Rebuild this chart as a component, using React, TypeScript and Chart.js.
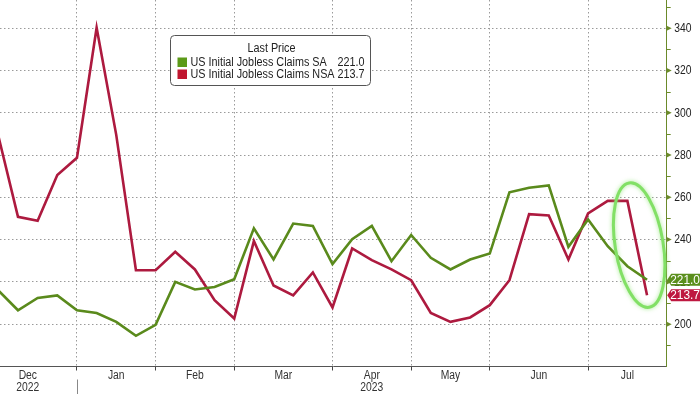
import React, { useEffect, useRef } from 'react';
import { Chart, registerables } from 'chart.js';

Chart.register(...registerables);

// ---- Data ----
const weekIndex: number[] = Array.from({ length: 34 }, (_, i) => i);
const saValues: number[] = [
  216, 206.6, 212.4, 213.6, 206.6, 205.3, 201.1, 194.5, 199.7, 220.0,
  216.4, 217.6, 221.3, 245.3, 230.6, 247.6, 246.5, 228.4, 240.2, 246.5,
  229.8, 242.2, 231.4, 225.9, 230.6, 233.4, 262.4, 264.5, 265.6, 236.6,
  249.5, 236.9, 227.4, 221.0,
];
const nsaValues: number[] = [
  289, 250.8, 248.9, 270.5, 278.7, 340.2, 289.4, 225.5, 225.5, 234.2,
  225.9, 211.4, 202.7, 239.3, 218.3, 213.6, 224.5, 207.9, 235.8, 230.3,
  225.9, 220.8, 205.3, 201.1, 203.2, 209.0, 220.8, 252.0, 251.4, 230.6,
  252.4, 258.3, 258.3, 213.7,
];
const seriesNames: string[] = ['US Initial Jobless Claims SA', 'US Initial Jobless Claims NSA'];
const lastValueLabels: string[] = ['221.0', '213.7'];
const legendTitle = 'Last Price';
const monthLabels: string[] = ['Dec', 'Jan', 'Feb', 'Mar', 'Apr', 'May', 'Jun', 'Jul'];
// week index where each month starts (boundaries), last entry = end of axis
const monthBounds: number[] = [-1, 4, 8, 12, 17, 21, 25, 30, 34];
const yearLabels: string[] = ['2022', '2023'];
const yearMonthPos: number[] = [0, 4]; // month index under which year label sits
const yearBoundaryWeek = 4;
const yMajorTicks: number[] = [200, 220, 240, 260, 280, 300, 320, 340];
const yMinorTicks: number[] = [190, 210, 230, 250, 270, 290, 310, 330, 350];
const highlightCenter = { x: 32.6, y: 237.4 };

const GREEN = '#5a8a1c';
const RED = '#ad1a3f';
const GREEN_TAG = '#5b8f1d';
const RED_TAG = '#be1840';
const FONT = '"Liberation Sans", Arial, sans-serif';
const SQUEEZE = 0.86;
const LEGEND_SQUEEZE = 0.9;

function txt(ctx: CanvasRenderingContext2D, s: string, x: number, y: number, align: CanvasTextAlign, sq = SQUEEZE) {
  ctx.save();
  ctx.translate(x, y);
  ctx.scale(sq, 1);
  ctx.textAlign = align;
  ctx.fillText(s, 0, 0);
  ctx.restore();
}

const customPlugin = {
  id: 'bbgDecor',
  afterDatasetsDraw(chart: any) {
    const { ctx, scales } = chart;
    const x = scales.x;
    const y = scales.y;
    // highlight ellipse
    ctx.save();
    ctx.translate(x.getPixelForValue(highlightCenter.x), y.getPixelForValue(highlightCenter.y));
    ctx.rotate(-0.16);
    ctx.beginPath();
    ctx.ellipse(0, 0, 24, 63, 0, 0, Math.PI * 2);
    ctx.strokeStyle = '#82e066';
    ctx.lineWidth = 3;
    ctx.shadowColor = 'rgba(130,225,100,0.7)';
    ctx.shadowBlur = 4;
    ctx.stroke();
    ctx.restore();
  },
  afterDraw(chart: any) {
    const { ctx, scales } = chart;
    const x = scales.x;
    const y = scales.y;
    ctx.save();
    // y-axis ticks
    const axX = y.left;
    ctx.strokeStyle = '#6b8a2a';
    ctx.fillStyle = '#6b8a2a';
    ctx.lineWidth = 1;
    yMinorTicks.forEach((v) => {
      const py = Math.round(y.getPixelForValue(v)) + 0.5;
      ctx.beginPath();
      ctx.moveTo(axX, py);
      ctx.lineTo(axX + 4, py);
      ctx.stroke();
    });
    yMajorTicks.forEach((v) => {
      const py = y.getPixelForValue(v);
      ctx.beginPath();
      ctx.moveTo(axX, py - 2.5);
      ctx.lineTo(axX + 5, py);
      ctx.lineTo(axX, py + 2.5);
      ctx.closePath();
      ctx.fill();
    });
    // y labels
    ctx.fillStyle = '#222';
    ctx.font = `12px ${FONT}`;
    ctx.textBaseline = 'middle';
    yMajorTicks.forEach((v) => {
      txt(ctx, String(v), axX + 7.5, y.getPixelForValue(v) + 0.5, 'left');
    });

    // month labels
    ctx.fillStyle = '#333';
    ctx.font = `12px ${FONT}`;
    ctx.textBaseline = 'middle';
    const baseY = x.top;
    monthLabels.forEach((m, i) => {
      const c = (monthBounds[i] + monthBounds[i + 1]) / 2;
      txt(ctx, m, x.getPixelForValue(c), baseY + 9, 'center');
    });
    yearLabels.forEach((yl, i) => {
      const mi = yearMonthPos[i];
      const c = (monthBounds[mi] + monthBounds[mi + 1]) / 2;
      txt(ctx, yl, x.getPixelForValue(c), baseY + 21.5, 'center');
    });
    // year separator
    const sx = Math.round(x.getPixelForValue(yearBoundaryWeek)) + 0.5;
    ctx.strokeStyle = '#888';
    ctx.beginPath();
    ctx.moveTo(sx, baseY + 13);
    ctx.lineTo(sx, chart.height);
    ctx.stroke();

    // last value tags
    const tags = [
      { v: saValues[saValues.length - 1], label: lastValueLabels[0], color: GREEN_TAG },
      { v: nsaValues[nsaValues.length - 1], label: lastValueLabels[1], color: RED_TAG },
    ];
    let prevBottom = -Infinity;
    tags.forEach((t) => {
      let cy = y.getPixelForValue(t.v);
      if (cy - 6 < prevBottom + 1) cy = prevBottom + 7;
      prevBottom = cy + 6;
      const l = axX + 0.5;
      ctx.beginPath();
      ctx.moveTo(l, cy);
      ctx.lineTo(l + 4, cy - 6);
      ctx.lineTo(chart.width, cy - 6);
      ctx.lineTo(chart.width, cy + 6);
      ctx.lineTo(l + 4, cy + 6);
      ctx.closePath();
      ctx.fillStyle = t.color;
      ctx.fill();
      ctx.fillStyle = '#fff';
      ctx.font = `12.5px ${FONT}`;
      ctx.textBaseline = 'middle';
      txt(ctx, t.label, l + 3, cy + 0.5, 'left', 0.95);
    });

    // legend box
    const bx = 170.5, by = 35.5, bw = 200, bh = 50;
    ctx.beginPath();
    ctx.roundRect(bx, by, bw, bh, 4);
    ctx.fillStyle = '#fff';
    ctx.fill();
    ctx.strokeStyle = '#555';
    ctx.lineWidth = 1;
    ctx.stroke();
    ctx.fillStyle = '#222';
    ctx.font = `12px ${FONT}`;
    ctx.textBaseline = 'middle';
    txt(ctx, legendTitle, bx + 101, by + 13.5, 'center', LEGEND_SQUEEZE);
    const colors = ['#5c9a18', '#c0162f'];
    seriesNames.forEach((n, i) => {
      const ry = by + 26.5 + i * 12;
      ctx.fillStyle = colors[i];
      ctx.fillRect(bx + 7, ry - 4.5, 9.5, 9.5);
      ctx.fillStyle = '#222';
      txt(ctx, n, bx + 20, ry + 0.5, 'left', LEGEND_SQUEEZE);
      txt(ctx, lastValueLabels[i], bx + 194, ry + 0.5, 'right', LEGEND_SQUEEZE);
    });
    ctx.restore();
  },
};

export default function App() {
  const ref = useRef<HTMLCanvasElement | null>(null);
  useEffect(() => {
    document.body.style.margin = '0';
    const canvas = ref.current;
    if (!canvas) return;
    const chart = new Chart(canvas, {
      type: 'line',
      data: {
        datasets: [
          {
            label: seriesNames[0],
            data: weekIndex.map((i) => ({ x: i, y: saValues[i] })),
            borderColor: GREEN,
            borderWidth: 2.6,
            pointRadius: 0,
            tension: 0,
          },
          {
            label: seriesNames[1],
            data: weekIndex.map((i) => ({ x: i, y: nsaValues[i] })),
            borderColor: RED,
            borderWidth: 2.6,
            pointRadius: 0,
            tension: 0,
          },
        ],
      },
      options: {
        animation: false,
        responsive: false,
        devicePixelRatio: 1,
        layout: { padding: 0 },
        plugins: { legend: { display: false }, tooltip: { enabled: false } },
        scales: {
          x: {
            type: 'linear',
            min: 0.085,
            max: 34,
            afterBuildTicks: (scale: any) => {
              scale.ticks = monthBounds.slice(1, -1).map((v) => ({ value: v }));
            },
            afterFit: (scale: any) => {
              scale.height = 27.5;
            },
            ticks: { display: false, autoSkip: false },
            grid: {
              color: '#9a9a9a',
              lineWidth: 1,
              drawTicks: true,
              tickLength: 4,
              tickColor: '#444',
              tickBorderDash: [],
            },
            border: { display: true, color: '#555', width: 1, dash: [1.5, 2.5] },
          },
          y: {
            type: 'linear',
            position: 'right',
            min: 180,
            max: 353.3,
            afterBuildTicks: (scale: any) => {
              scale.ticks = yMajorTicks.map((v) => ({ value: v }));
            },
            afterFit: (scale: any) => {
              scale.width = 33.3;
            },
            ticks: { display: false, autoSkip: false },
            grid: { color: '#9a9a9a', lineWidth: 1, drawTicks: false },
            border: { display: true, color: '#6b8a2a', width: 1, dash: [1.5, 2.5] },
          },
        },
      },
      plugins: [customPlugin],
    });
    return () => chart.destroy();
  }, []);
  return (
    <div style={{ width: 700, height: 394 }}>
      <canvas ref={ref} width={700} height={394} style={{ display: 'block' }} />
    </div>
  );
}
